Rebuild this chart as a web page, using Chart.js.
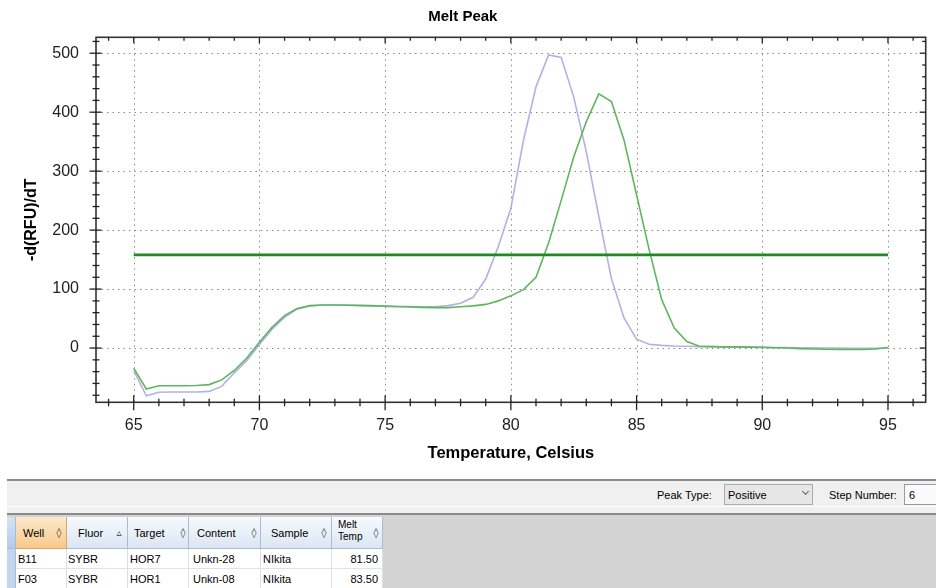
<!DOCTYPE html>
<html><head><meta charset="utf-8">
<script src="https://cdn.jsdelivr.net/npm/chart.js@4.4.1/dist/chart.umd.min.js"></script>
<style>
html,body{margin:0;padding:0;background:#fff;width:936px;height:588px;overflow:hidden;font-family:"Liberation Sans",Arial,sans-serif;}
#wrap{position:absolute;left:0;top:0;width:936px;height:470px;}
.ab{position:absolute;box-sizing:border-box;}
.txt{font-size:11px;color:#000;white-space:nowrap;line-height:14px;}
.hdr{background:linear-gradient(#f7fafd,#dbe6f3);border-right:1px solid #a9bcd2;border-bottom:1px solid #a9bcd2;}
.hdrSel{background:linear-gradient(#fde9cc,#f8c98c);border-right:1px solid #e2a75c;border-bottom:1px solid #e2a75c;}
.cell{background:#fff;border-right:1px solid #d9e0e8;border-bottom:1px solid #e2e2e2;}
.ico{font-family:"DejaVu Sans",sans-serif;font-size:10px;color:#333;line-height:14px;text-align:center;}
</style>
</head><body>
<div id="wrap"><canvas id="c" width="936" height="470"></canvas></div>
<div id="ui"></div>
<script>
// ---- data ----
const temps = [65,65.5,66,66.5,67,67.5,68,68.5,69,69.5,70,70.5,71,71.5,72,72.5,73,73.5,74,74.5,75,75.5,76,76.5,77,77.5,78,78.5,79,79.5,80,80.5,81,81.5,82,82.5,83,83.5,84,84.5,85,85.5,86,86.5,87,87.5,88,88.5,89,89.5,90,90.5,91,91.5,92,92.5,93,93.5,94,94.5,95];
const wellB11 = [-38,-81,-75,-74.5,-74.5,-74.5,-73.5,-65,-42,-21,6,32,52,66,71,73,73,73,72.5,72,71.5,71,70.5,70,70,72,76,86,117,172,237,352,443,497,493,426,333,223,118,51,15,6.5,4.5,3.5,3,2.5,2.5,2,2,1.5,1.5,1,1,0.5,0.5,0,0,-0.5,-0.5,-0.5,0];
const wellF03 = [-34,-69.5,-64,-64,-64,-63.5,-62,-54,-38,-17,10,35,55,67,72,73,73,72.5,72,71.5,71,70,69.5,69,68.5,68.5,70,71.5,74,80,88.5,99,120,178,250,324,384,431,418,353,260,167,82,34,11,3,2.5,2,2,1.5,1,0.5,0,-1,-1.5,-2,-2.5,-2.5,-2.5,-1.5,1];
const threshold = 158;
const thresholdRange = [65, 95];
const xTicks = [65,70,75,80,85,90,95];
const yTicks = [0,100,200,300,400,500];
const xRange = [63.5, 96.5];
const yRange = [-92, 527];
const tableHeaders = ['Well','Fluor','Target','Content','Sample','Melt Temp'];
const tableRows = [
  ['B11','SYBR','HOR7','Unkn-28','NIkita','81.50'],
  ['F03','SYBR','HOR1','Unkn-08','NIkita','83.50']
];
const peakType = 'Positive';
const stepNumber = '6';

// ---- chart ----
const FONT = '"Liberation Sans", Arial, sans-serif';
const gridAndFrame = {
  id: 'gridAndFrame',
  beforeDatasetsDraw(chart) {
    const {ctx, chartArea: a, scales: {x, y}} = chart;
    ctx.save();
    ctx.strokeStyle = '#8a8a8a';
    ctx.lineWidth = 1;
    ctx.setLineDash([1.5, 4]);
    xTicks.forEach(v => {
      const px = Math.round(x.getPixelForValue(v)) + 0.5;
      ctx.beginPath(); ctx.moveTo(px, a.top); ctx.lineTo(px, a.bottom); ctx.stroke();
    });
    yTicks.forEach(v => {
      const py = Math.round(y.getPixelForValue(v)) + 0.5;
      ctx.beginPath(); ctx.moveTo(a.left, py); ctx.lineTo(a.right, py); ctx.stroke();
    });
    ctx.restore();
  },
  afterDraw(chart) {
    const {ctx, chartArea: a, scales: {x, y}} = chart;
    ctx.save();
    ctx.setLineDash([]);
    ctx.strokeStyle = '#333';
    ctx.lineWidth = 1.6;
    ctx.strokeRect(a.left, a.top, a.right - a.left, a.bottom - a.top);
    ctx.lineWidth = 1.3;
    ctx.strokeStyle = '#222';
    const line = (x1, y1, x2, y2) => { ctx.beginPath(); ctx.moveTo(x1, y1); ctx.lineTo(x2, y2); ctx.stroke(); };
    for (let v = Math.ceil(xRange[0]); v <= xRange[1]; v += 1) {
      const px = x.getPixelForValue(v);
      const major = v % 5 === 0;
      if (major) { line(px, a.bottom - 7, px, a.bottom + 8); line(px, a.top, px, a.top + 6); }
      else { line(px, a.bottom - 3.5, px, a.bottom + 4); line(px, a.top, px, a.top + 3.5); }
    }
    for (let v = -80; v <= yRange[1]; v += 20) {
      const py = y.getPixelForValue(v);
      const major = v % 100 === 0;
      if (major) { line(a.left - 6.5, py, a.left + 5.5, py); line(a.right - 6, py, a.right, py); }
      else { line(a.left - 3.5, py, a.left + 3.5, py); line(a.right - 3.5, py, a.right, py); }
    }
    ctx.restore();
  }
};

new Chart(document.getElementById('c'), {
  type: 'line',
  data: {
    datasets: [
      { label: 'B11', data: temps.map((t, i) => ({x: t, y: wellB11[i]})), borderColor: '#b1b1e6', borderWidth: 1.6, pointRadius: 0, tension: 0, fill: false, order: 3 },
      { label: 'F03', data: temps.map((t, i) => ({x: t, y: wellF03[i]})), borderColor: '#5fb65f', borderWidth: 1.6, pointRadius: 0, tension: 0, fill: false, order: 2 },
      { label: 'Threshold', data: thresholdRange.map(t => ({x: t, y: threshold})), borderColor: '#1f8a1f', borderWidth: 2.6, pointRadius: 0, fill: false, order: 1 }
    ]
  },
  options: {
    responsive: false, animation: false,
    layout: { padding: { left: 0, right: 10.3, top: 0, bottom: 0 } },
    plugins: {
      legend: { display: false }, tooltip: { enabled: false },
      title: { display: true, text: 'Melt Peak', color: '#000', font: { family: FONT, size: 15, weight: 'bold' }, padding: { top: 8, bottom: 11.3 } }
    },
    scales: {
      x: {
        type: 'linear', min: xRange[0], max: xRange[1],
        afterBuildTicks: s => { s.ticks = xTicks.map(v => ({value: v})); },
        afterFit: s => { s.height = 470 - 402.3; },
        grid: { display: false, drawTicks: false },
        border: { display: false },
        ticks: { color: '#222', font: { family: FONT, size: 16 }, padding: 13.4, maxRotation: 0, autoSkip: false },
        title: { display: true, text: 'Temperature, Celsius', color: '#000', font: { family: FONT, size: 16.5, weight: 'bold' }, padding: { top: 0, bottom: 6.8 } }
      },
      y: {
        type: 'linear', min: yRange[0], max: yRange[1],
        afterBuildTicks: s => { s.ticks = yTicks.map(v => ({value: v})); },
        afterFit: s => { s.width = 96; },
        grid: { display: false, drawTicks: false },
        border: { display: false },
        ticks: { color: '#222', font: { family: FONT, size: 16 }, padding: 17 },
        title: { display: true, text: '-d(RFU)/dT', color: '#000', font: { family: FONT, size: 16, weight: 'bold' }, padding: { top: 22.4, bottom: 0 } }
      }
    }
  },
  plugins: [gridAndFrame]
});

// ---- lower panel (HTML) ----
const ui = document.getElementById('ui');
function box(l, t, w, h, css, html, cls) {
  const d = document.createElement('div');
  d.className = 'ab' + (cls ? ' ' + cls : '');
  d.style.cssText = `left:${l}px;top:${t}px;width:${w}px;height:${h}px;` + (css || '');
  if (html !== undefined) d.textContent = html;
  ui.appendChild(d);
  return d;
}
box(7, 479, 929, 2, 'background:#8a8a8a');
box(7, 481, 929, 32, 'background:#f0f0f0');
box(7, 506, 929, 1, 'background:#fdfdfd');
box(7, 513, 929, 2, 'background:#8a8a8a');
box(7, 515, 929, 73, 'background:#d3d3d3');
// toolbar (text centre y ~495)
box(657, 488, 60, 14, '', 'Peak Type:', 'txt');
box(724, 484, 89, 21, 'background:#e6e6e6;border:1px solid #acacac;');
box(728, 488, 60, 14, '', peakType, 'txt');
box(803, 489, 5, 5, 'border-right:1px solid #666;border-bottom:1px solid #666;transform:rotate(45deg);');
box(829, 488, 70, 14, '', 'Step Number:', 'txt');
box(904, 484, 40, 21, 'background:#fafafa;border:1px solid #9a9a9a;');
box(909, 488, 20, 14, '', stepNumber, 'txt');
// table
const colX = [16, 67, 128, 189, 261, 332, 383];
const hdrTextX = [23, 78, 134, 197, 271, 338];
const hdrIcon = ['\u25CA', '\u25B5', '\u25CA', '\u25CA', '\u25CA', '\u25CA'];
const hdrIconX = [53, 113, 177, 248, 318, 370];
box(7, 517, 9, 71, 'background:#c3d6ef;border-right:1px solid #a9bcd2;');
box(7, 517, 9, 32, 'background:linear-gradient(#d5e3f5,#b3cbeb);border-right:1px solid #a9bcd2;border-bottom:1px solid #a9bcd2;');
tableHeaders.forEach((h, i) => {
  box(colX[i], 517, colX[i + 1] - colX[i], 32, '', undefined, i === 0 ? 'hdrSel' : 'hdr');
  if (h === 'Melt Temp') {
    const d = box(hdrTextX[i], 519, 30, 28, 'font-size:10px;line-height:12px;color:#000;');
    d.innerHTML = 'Melt<br>Temp';
  } else {
    box(hdrTextX[i], 526, 50, 14, '', h, 'txt');
  }
  box(hdrIconX[i], 526, 12, 14, '', hdrIcon[i], 'ico');
});
const cellTextX = [18, 68, 130, 193, 263];
tableRows.forEach((row, r) => {
  const top = 549 + r * 20;
  row.forEach((v, i) => {
    box(colX[i], top, colX[i + 1] - colX[i], 20, '', undefined, 'cell');
    if (i < 5) box(cellTextX[i], top + 3, 60, 14, '', v, 'txt');
    else box(colX[i], top + 3, colX[i + 1] - colX[i] - 5, 14, 'text-align:right;', v, 'txt');
  });
});
</script>
</body></html>
